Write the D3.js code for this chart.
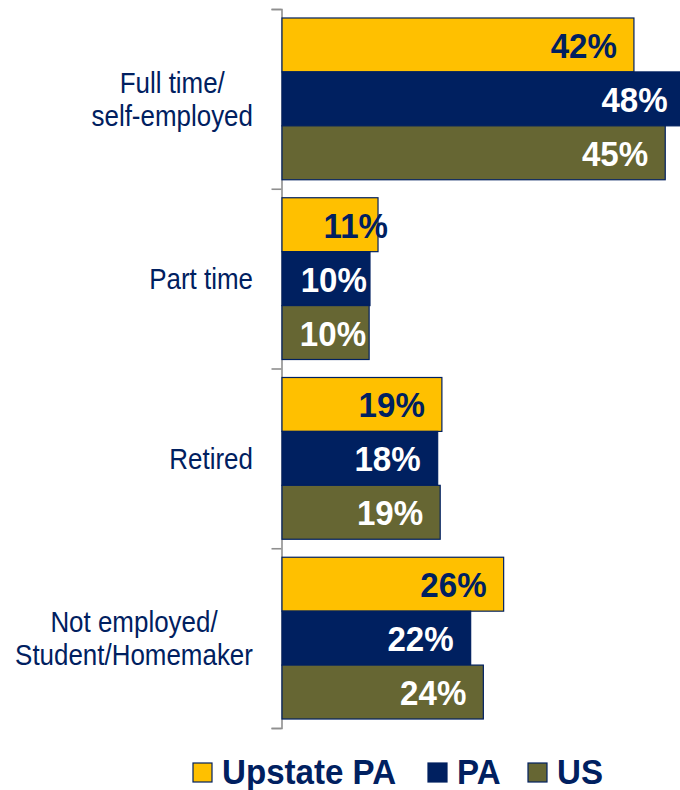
<!DOCTYPE html>
<html>
<head>
<meta charset="utf-8">
<script src="https://cdn.jsdelivr.net/npm/d3@7"></script>
<style>
  html, body { margin: 0; padding: 0; background: #fff; }
  svg { display: block; }
  text { font-family: "Liberation Sans", Arial, sans-serif; }
</style>
</head>
<body>
<svg id="chart" width="680" height="790"></svg>
<script>
// ---- data ----
const categories = [
  ["Full time/", "self-employed"],
  ["Part time"],
  ["Retired"],
  ["Not employed/", "Student/Homemaker"]
];
const seriesNames = ["Upstate PA", "PA", "US"];
const upstatePA = [41.6, 11.35, 18.9, 26.2];
const pa        = [47.6, 10.4, 18.4, 22.3];
const us        = [45.3, 10.3, 18.7, 23.8];

// ---- styling / layout (not data) ----
const colors = ["#FFC000", "#002060", "#666633"];
const labelColors = ["#002060", "#ffffff", "#ffffff"];
const navy = "#002060";
const labelNudge = { "1|0": 27, "1|1": 14, "1|2": 14 };

const svg = d3.select("#chart");
const catIdx = categories.map((d, i) => i);
const seriesValues = [upstatePA, pa, us];

const x = d3.scaleLinear().domain([0, 50]).range([282, 282 + 50 * 8.46]);
const y = d3.scaleBand().domain(catIdx).range([9, 728]).paddingInner(0).paddingOuter(0);
const yInner = d3.scaleBand().domain(d3.range(seriesNames.length))
  .range([0, y.bandwidth()]).paddingInner(0).paddingOuter(9 / 54);

// axis with ticks at band boundaries
const yb = d3.scaleLinear().domain([0, categories.length]).range([9, 728]);
const axis = svg.append("g")
  .attr("transform", "translate(281.5,0)")
  .call(d3.axisLeft(yb).ticks(categories.length).tickSize(10).tickSizeOuter(10).tickFormat(""));
axis.selectAll("path, line").attr("stroke", "#8f8f8f").attr("stroke-width", 1.6);

// bars
const rows = [];
catIdx.forEach(ci => seriesValues.forEach((vals, si) => rows.push({ ci, si, v: vals[ci] })));

svg.append("g").selectAll("rect").data(rows).join("rect")
  .attr("x", x(0))
  .attr("y", d => y(d.ci) + yInner(d.si))
  .attr("width", d => x(d.v) - x(0))
  .attr("height", yInner.bandwidth())
  .attr("fill", d => colors[d.si])
  .attr("stroke", navy)
  .attr("stroke-width", 1.2);

// value labels
svg.append("g").selectAll("text").data(rows).join("text")
  .attr("transform", d => {
    const nx = x(d.v) - 17 + (labelNudge[d.ci + "|" + d.si] || 0);
    const ny = y(d.ci) + yInner(d.si) + yInner.bandwidth() / 2 + 13;
    return `translate(${nx},${ny}) scale(0.92,1)`;
  })
  .attr("text-anchor", "end")
  .attr("font-size", 36)
  .attr("font-weight", "bold")
  .attr("fill", d => labelColors[d.si])
  .text(d => Math.round(d.v) + "%");

// category labels
const catFont = 30, catScale = 0.865, lineGap = 33.5;
const measure = svg.append("text").attr("font-size", catFont).attr("visibility", "hidden");
const catG = svg.append("g");
categories.forEach((lines, ci) => {
  const widths = lines.map(l => { measure.text(l); return measure.node().getComputedTextLength() * catScale; });
  const maxW = d3.max(widths);
  const cx = 253 - maxW / 2;
  const cy = y(ci) + y.bandwidth() / 2;
  const firstBase = cy + 10.5 - (lines.length - 1) * lineGap / 2;
  lines.forEach((l, li) => {
    catG.append("text")
      .attr("transform", `translate(${cx},${firstBase + li * lineGap}) scale(${catScale},1)`)
      .attr("text-anchor", "middle")
      .attr("font-size", catFont)
      .attr("fill", navy)
      .text(l);
  });
});
measure.remove();

// legend
const legendX = [193, 428, 528];
const leg = svg.append("g").selectAll("g").data(seriesNames).join("g")
  .attr("transform", (d, i) => `translate(${legendX[i]},763)`);
leg.append("rect").attr("width", 19).attr("height", 19)
  .attr("fill", (d, i) => colors[i]).attr("stroke", navy).attr("stroke-width", 1.2);
leg.append("text")
  .attr("transform", "translate(29,21) scale(0.92,1)")
  .attr("font-size", 36).attr("font-weight", "bold").attr("fill", navy)
  .text(d => d);
</script>
</body>
</html>
